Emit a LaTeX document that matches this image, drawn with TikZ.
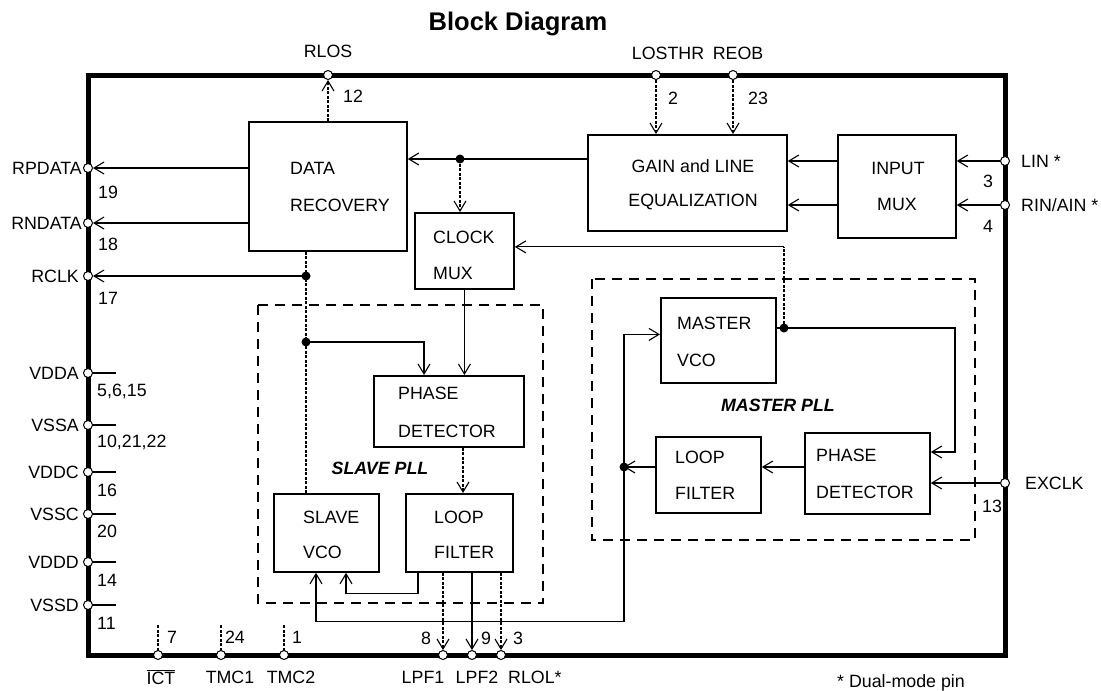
\documentclass[tikz,border=0pt]{standalone}
\usepackage{fontspec}
\setmainfont{Liberation Sans}
\usetikzlibrary{arrows.meta,calc}
\begin{document}
\begin{tikzpicture}[x=1pt,y=-1pt,
  every node/.style={inner sep=0pt, font=\fontsize{17.8}{20}\selectfont},
  box/.style={draw, line width=1.8pt, anchor=north west, inner sep=0pt},
  pll/.style={draw, line width=1.4pt, dash pattern=on 10pt off 7pt},
  pinc/.style={circle, draw, fill=white, line width=1pt, minimum size=9pt, inner sep=0pt},
  jdot/.style={circle, fill=black, minimum size=9pt, inner sep=0pt},
  arr/.style={-{Straight Barb[length=10pt,width=12pt,line width=1.1pt]}, line width=1.1pt},
  ln/.style={line width=1.1pt},
  dl/.style={dash pattern=on 3pt off 1.5pt},
  plltitle/.style={font=\bfseries\itshape\fontsize{17.8}{20}\selectfont}
]
\useasboundingbox (0,0) rectangle (1101,691);
\fill[white] (0,0) rectangle (1101,691);

% title
\node[font=\bfseries\fontsize{25.5}{28}\selectfont] (title) at (518,24) {Block Diagram};

% chip border
\draw[line width=5pt] (88,75) rectangle (1005,655);

% PLL regions
\draw[pll] (258,305) rectangle (543,603);
\draw[pll] (592,279) rectangle (975,540);

% blocks
\node[box, minimum width=158pt, minimum height=129pt] (dr)   at (248,121) {};
\node[box, minimum width=199pt, minimum height=96pt]  (gain) at (587,134) {};
\node[box, minimum width=118pt, minimum height=103pt] (imux) at (837,134) {};
\node[box, minimum width=99pt,  minimum height=76pt]  (cmux) at (414,212) {};
\node[box, minimum width=150pt, minimum height=71pt]  (spd)  at (373,375) {};
\node[box, minimum width=105pt, minimum height=78pt]  (svco) at (273,493) {};
\node[box, minimum width=107pt, minimum height=78pt]  (slf)  at (405,493) {};
\node[box, minimum width=115pt, minimum height=85pt]  (mvco) at (660,297) {};
\node[box, minimum width=105pt, minimum height=76pt]  (mlf)  at (655,436) {};
\node[box, minimum width=125pt, minimum height=81pt]  (mpd)  at (804,432) {};

% block texts
\node[anchor=west] (t1) at (290,168) {DATA};
\node[anchor=west] (t2) at (290,205) {RECOVERY};
\node (t3) at (693,166) {GAIN and LINE};
\node (t4) at (693,202) {EQUALIZATION};
\node (t5) at (898,168) {INPUT};
\node (t6) at (897,204) {MUX};
\node[anchor=west] (t7) at (433,237) {CLOCK};
\node[anchor=west] (t8) at (433,273) {MUX};
\node[anchor=west] (t9) at (398,393) {PHASE};
\node[anchor=west] (t10) at (398,431) {DETECTOR};
\node[anchor=west] (t11) at (303,517) {SLAVE};
\node[anchor=west] (t12) at (303,552) {VCO};
\node[anchor=west] (t13) at (434,517) {LOOP};
\node[anchor=west] (t14) at (434,552) {FILTER};
\node[anchor=west] (t15) at (677,323) {MASTER};
\node[anchor=west] (t16) at (677,360) {VCO};
\node[anchor=west] (t17) at (675,457) {LOOP};
\node[anchor=west] (t18) at (675,493) {FILTER};
\node[anchor=west] (t19) at (816,455) {PHASE};
\node[anchor=west] (t20) at (816,492) {DETECTOR};
\node[plltitle] (slpll) at (380,468) {SLAVE PLL};
\node[plltitle] (mspll) at (778,405) {MASTER PLL};

% coordinates for pins
\coordinate (rpdataC) at (88,168);
\coordinate (rndataC) at (88,223);
\coordinate (rclkC) at (88,276);

% junction coordinates
\coordinate (d1C) at (306,276);
\coordinate (d2C) at (306,342);
\coordinate (d3C) at (460,159);
\coordinate (dmC) at (784,328);
\coordinate (dm2C) at (624,467);
\coordinate (cmin) at ([yshift=4pt]cmux.east);
\coordinate (sfin) at ([xshift=58pt]slf.north west);
\coordinate (spdin) at ([xshift=51pt]spd.north west);
\coordinate (vin1) at ([xshift=43pt]svco.south west);
\coordinate (vin2) at ([xshift=73pt]svco.south west);
\coordinate (slfout) at ([xshift=13pt]slf.south west);
\coordinate (mloop) at (955,452);
\coordinate (mvin) at ([yshift=6pt]mvco.west);

% power stubs
\foreach \yy in {373,425,472,514,562,605}{
  \draw[ln] (88,\yy) -- (116,\yy);
}
% ICT/TMC stubs
\foreach \xx in {158,221,284}{
  \draw[ln,dl] (\xx,655) -- (\xx,625);
}

% pins
\node[pinc] (rpdata) at (rpdataC) {};
\node[pinc] (rndata) at (rndataC) {};
\node[pinc] (rclk) at (rclkC) {};
\node[pinc] (vdda) at (88,373) {};
\node[pinc] (vssa) at (88,425) {};
\node[pinc] (vddc) at (88,472) {};
\node[pinc] (vssc) at (88,514) {};
\node[pinc] (vddd) at (88,562) {};
\node[pinc] (vssd) at (88,605) {};
\node[pinc] (rlos) at (328,75) {};
\node[pinc] (losthr) at (656,75) {};
\node[pinc] (reob) at (733,75) {};
\node[pinc] (lin) at (1005,161) {};
\node[pinc] (rin) at (1005,205) {};
\node[pinc] (exclk) at (1005,483) {};
\node[pinc] (ict) at (158,655) {};
\node[pinc] (tmc1) at (221,655) {};
\node[pinc] (tmc2) at (284,655) {};
\node[pinc] (lpf1) at (443,655) {};
\node[pinc] (lpf2) at (472,655) {};
\node[pinc] (rlol) at (501,655) {};

% connectors
\draw[arr] (dr.west |- rpdata) -- (rpdata);
\draw[arr] (dr.west |- rndata) -- (rndata);
\draw[arr] (d1C) -- (rclk);
\draw[ln,dl] (dr.south -| d1C) -- (d1C) -- (d2C) -- (d2C |- svco.north);
\draw[arr] (d2C) -| (spdin);
\draw[arr] (gain.west |- d3C) -- (dr.east |- d3C);
\draw[arr,dl] (d3C) -- (d3C |- cmux.north);
\draw[arr] (imux.west |- lin) -- (gain.east |- lin);
\draw[arr] (imux.west |- rin) -- (gain.east |- rin);
\draw[arr] (lin) -- (imux.east |- lin);
\draw[arr] (rin) -- (imux.east |- rin);
\draw[arr,dl] (dr.north -| rlos) -- (rlos);
\draw[arr,dl] (losthr) -- (losthr |- gain.north);
\draw[arr,dl] (reob) -- (reob |- gain.north);
\draw[arr] (cmux.south) -- (cmux.south |- spd.north);
\draw[arr,dl] (spd.south -| sfin) -- (sfin);
\draw[ln] (mvco.east |- dmC) -- (dmC);
\draw[arr] (dmC) -| (mloop) -- (mpd.east |- mloop);
\draw[ln,dl] (dmC) -- (dmC |- cmin);
\draw[arr] (dmC |- cmin) -- (cmin);
\draw[arr] (exclk) -- (mpd.east |- exclk);
\draw[arr] (mpd.west |- dm2C) -- (mlf.east |- dm2C);
\draw[arr] (mlf.west |- dm2C) -- (dm2C);
\draw[arr] (dm2C) |- (mvin);
\draw[arr] (dm2C) |- ($(vin1)+(0,49)$) -- (vin1);
\draw[arr] (slfout) -- ++(0,21) -| (vin2);
\draw[arr,dl] (slf.south -| lpf1) -- (lpf1);
\draw[arr] (slf.south -| lpf2) -- (lpf2);
\draw[arr,dl] (slf.south -| rlol) -- (rlol);

% junction dots
\node[jdot] (d1) at (d1C) {};
\node[jdot] (d2) at (d2C) {};
\node[jdot] (d3) at (d3C) {};
\node[jdot] (dm) at (dmC) {};
\node[jdot] (dm2) at (dm2C) {};

% pin labels left
\node[anchor=east] (l1) at (82,168) {RPDATA};
\node[anchor=west] (n1) at (98,192) {19};
\node[anchor=east] (l2) at (82,223) {RNDATA};
\node[anchor=west] (n2) at (98,244) {18};
\node[anchor=east] (l3) at (79,276) {RCLK};
\node[anchor=west] (n3) at (98,298) {17};
\node[anchor=east] (l4) at (79,373) {VDDA};
\node[anchor=west] (n4) at (97,391) {5,6,15};
\node[anchor=east] (l5) at (79,425) {VSSA};
\node[anchor=west] (n5) at (97,442) {10,21,22};
\node[anchor=east] (l6) at (79,472) {VDDC};
\node[anchor=west] (n6) at (97,490) {16};
\node[anchor=east] (l7) at (79,514) {VSSC};
\node[anchor=west] (n7) at (97,531) {20};
\node[anchor=east] (l8) at (79,562) {VDDD};
\node[anchor=west] (n8) at (97,580) {14};
\node[anchor=east] (l9) at (79,605) {VSSD};
\node[anchor=west] (n9) at (97,623) {11};

% pin labels top
\node (l10) at (328,51) {RLOS};
\node[anchor=west] (n10) at (343,96) {12};
\node (l11) at (668,53) {LOSTHR};
\node (l12) at (738,53) {REOB};
\node[anchor=west] (n11) at (668,98) {2};
\node[anchor=west] (n12) at (748,98) {23};

% pin labels right
\node[anchor=west] (l13) at (1021,161) {LIN *};
\node (n13) at (988,181) {3};
\node[anchor=west] (l14) at (1021,205) {RIN/AIN *};
\node (n14) at (988,226) {4};
\node[anchor=west] (l15) at (1025,483) {EXCLK};
\node (n15) at (992,506) {13};

% pin labels bottom
\node (l16) at (161,677) {$\overline{\hbox{ICT}}$};
\node (l17) at (230,677) {TMC1};
\node (l18) at (291,677) {TMC2};
\node (l19) at (423,677) {LPF1};
\node (l20) at (477,677) {LPF2};
\node[anchor=west] (l21) at (508,677) {RLOL*};
\node (n16) at (172,637) {7};
\node (n17) at (235,637) {24};
\node (n18) at (297,637) {1};
\node (n19) at (426,638) {8};
\node (n20) at (486,638) {9};
\node (n21) at (518,638) {3};
\node (note) at (901,683) {* Dual-mode pin};
\end{tikzpicture}
\end{document}
